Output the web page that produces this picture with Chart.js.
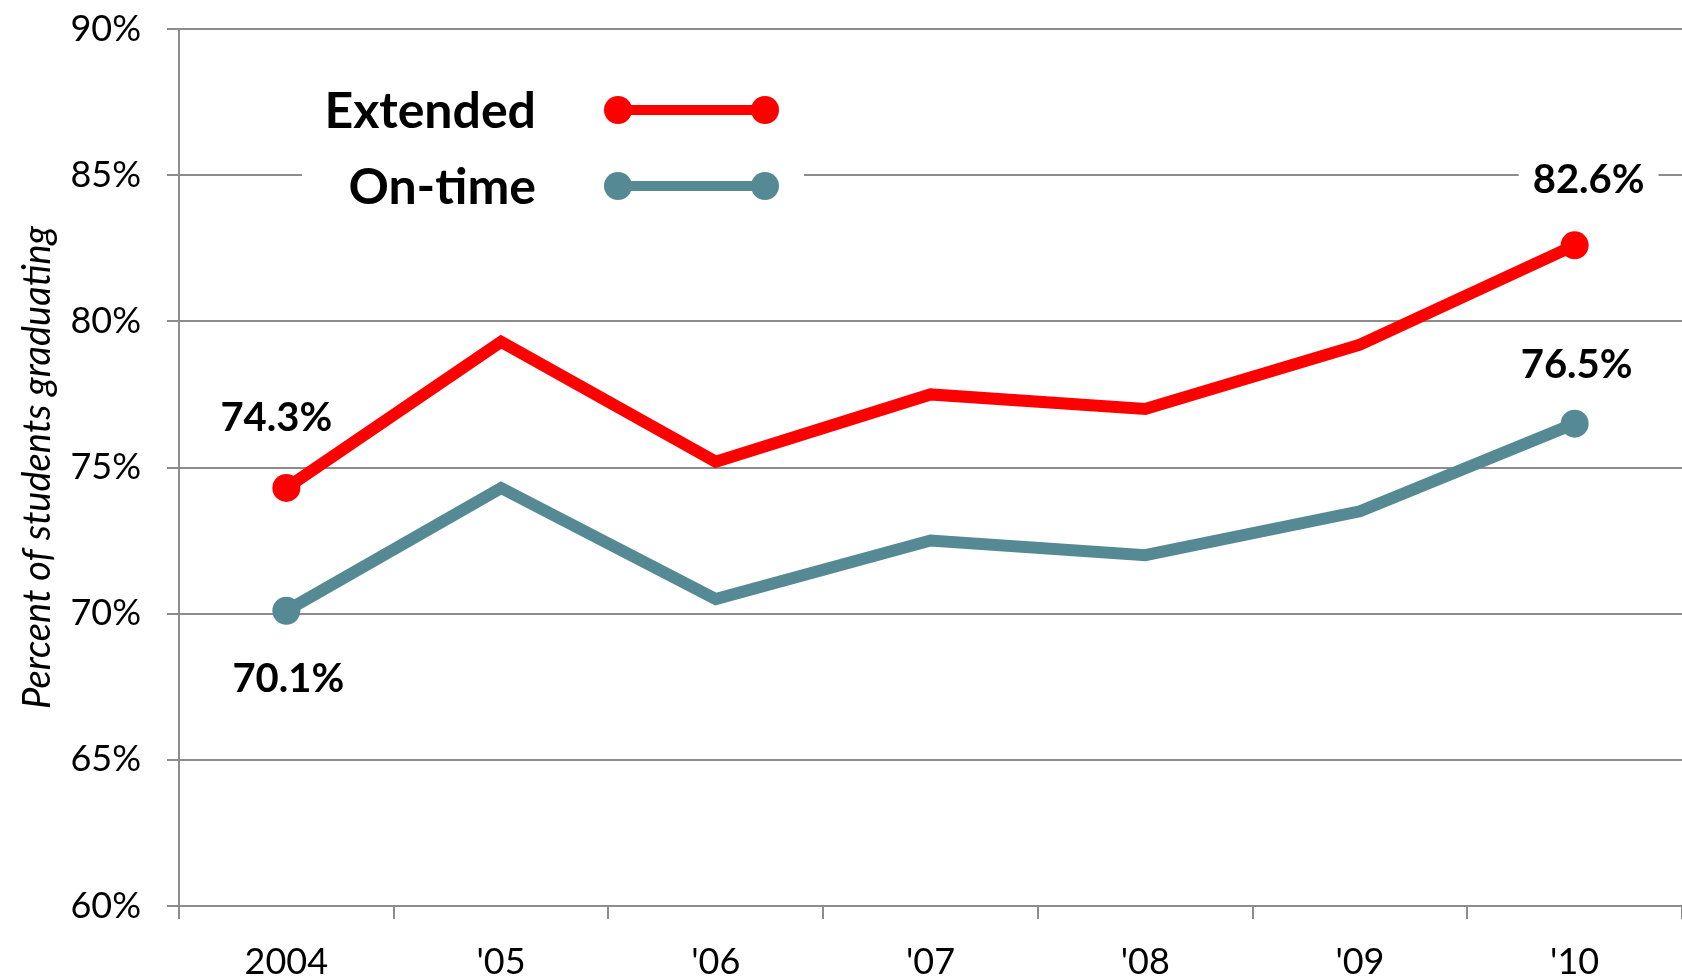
<!DOCTYPE html>
<html lang="en">
<head>
<meta charset="UTF-8">
<title>Percent of students graduating</title>
<script src="https://cdn.jsdelivr.net/npm/chart.js"></script>
<style>
  html, body { margin: 0; padding: 0; background: #fff; overflow: hidden; }
  canvas { display: block; }
</style>
</head>
<body>
<canvas id="myChart" width="1682" height="979"></canvas>
<script>
var years = ["2004", "'05", "'06", "'07", "'08", "'09", "'10"];
var extended = [74.3, 79.3, 75.2, 77.5, 77.0, 79.2, 82.6];
var onTime = [70.1, 74.3, 70.5, 72.5, 72.0, 73.5, 76.5];
var yMin = 60, yMax = 90, yStep = 5;
var seriesNames = ["Extended", "On-time"];
var seriesColors = ["#ff0000", "#558a95"];

var FONT = 'Lato, "Noto Sans", sans-serif';
var GRID = '#8c8c8c';

// only the first and last points get a marker
function endMarkers(n) {
    var r = [];
    for (var i = 0; i < n; i++) r.push(i === 0 || i === n - 1 ? 14 : 0);
    return r;
}

// value labels next to the end points, offsets in px from the point
var endLabelOffsets = [
    { ds: 0, i: 0, dx: -10, dy: -72 },
    { ds: 1, i: 0, dx: 2, dy: 66 },
    { ds: 0, i: 6, dx: 14, dy: -67 },
    { ds: 1, i: 6, dx: 2, dy: -61 }
];

var endLabelsPlugin = {
    id: 'endLabels',
    afterDatasetsDraw: function (chart) {
        var ctx = chart.ctx;
        ctx.save();
        ctx.font = 'bold 40px ' + FONT;
        ctx.textAlign = 'center';
        ctx.textBaseline = 'middle';
        endLabelOffsets.forEach(function (o) {
            var pt = chart.getDatasetMeta(o.ds).data[o.i];
            var v = chart.data.datasets[o.ds].data[o.i];
            var txt = v.toFixed(1) + '%';
            var x = pt.x + o.dx, y = pt.y + o.dy;
            var w = ctx.measureText(txt).width;
            ctx.fillStyle = '#fff';
            ctx.fillRect(x - w / 2 - 14, y - 20, w + 28, 40);
            ctx.fillStyle = '#000';
            ctx.fillText(txt, x, y + 2);
        });
        ctx.restore();
    }
};

var legendPlugin = {
    id: 'boxLegend',
    afterDraw: function (chart) {
        var ctx = chart.ctx;
        var rows = [110, 186];
        ctx.save();
        ctx.fillStyle = '#fff';
        ctx.fillRect(302, 70, 502, 150);
        ctx.font = 'bold 50px ' + FONT;
        ctx.textAlign = 'right';
        ctx.textBaseline = 'middle';
        for (var k = 0; k < seriesNames.length; k++) {
            var y = rows[k];
            ctx.fillStyle = '#000';
            ctx.fillText(seriesNames[k], 536, y + 2);
            ctx.strokeStyle = seriesColors[k];
            ctx.lineWidth = 10;
            ctx.beginPath();
            ctx.moveTo(618, y);
            ctx.lineTo(765, y);
            ctx.stroke();
            ctx.fillStyle = seriesColors[k];
            [618, 765].forEach(function (x) {
                ctx.beginPath();
                ctx.arc(x, y, 14, 0, Math.PI * 2);
                ctx.fill();
            });
        }
        ctx.restore();
    }
};

var data = {
    labels: years,
    datasets: [
        {
            label: seriesNames[0],
            data: extended,
            borderColor: seriesColors[0],
            backgroundColor: seriesColors[0],
            pointBackgroundColor: seriesColors[0],
            borderWidth: 12,
            tension: 0,
            pointRadius: endMarkers(extended.length),
            pointHoverRadius: endMarkers(extended.length),
            pointBorderWidth: 0,
            clip: false
        },
        {
            label: seriesNames[1],
            data: onTime,
            borderColor: seriesColors[1],
            backgroundColor: seriesColors[1],
            pointBackgroundColor: seriesColors[1],
            borderWidth: 12,
            tension: 0,
            pointRadius: endMarkers(onTime.length),
            pointHoverRadius: endMarkers(onTime.length),
            pointBorderWidth: 0,
            clip: false
        }
    ]
};

var config = {
    type: 'line',
    data: data,
    plugins: [endLabelsPlugin, legendPlugin],
    options: {
        responsive: false,
        animation: false,
        events: [],
        layout: {
            autoPadding: false,
            padding: { top: 29, right: 0, bottom: 0, left: 0 }
        },
        plugins: {
            legend: { display: false },
            tooltip: { enabled: false }
        },
        scales: {
            x: {
                offset: true,
                grid: {
                    offset: true,
                    drawOnChartArea: false,
                    drawTicks: true,
                    tickLength: 13,
                    color: GRID,
                    lineWidth: 2
                },
                border: { display: true, color: GRID, width: 2 },
                ticks: {
                    color: '#000',
                    padding: 22,
                    maxRotation: 0,
                    font: { family: FONT, size: 36 }
                },
                afterFit: function (scale) {
                    scale.height = 73;
                    scale.paddingLeft = 0;
                    scale.paddingRight = 0;
                }
            },
            y: {
                min: yMin,
                max: yMax,
                grid: {
                    color: GRID,
                    lineWidth: 2,
                    tickLength: 12
                },
                border: { display: true, color: GRID, width: 2 },
                ticks: {
                    stepSize: yStep,
                    color: '#000',
                    padding: 26,
                    font: { family: FONT, size: 36 },
                    callback: function (v) { return v + '%'; }
                },
                title: {
                    display: true,
                    text: 'Percent of students graduating',
                    color: '#000',
                    padding: { top: 15, bottom: 0 },
                    font: { family: FONT, size: 38, style: 'italic' }
                },
                afterFit: function (scale) {
                    scale.width = 179;
                    scale.paddingTop = 0;
                    scale.paddingBottom = 0;
                }
            }
        }
    }
};

var myChart = new Chart(document.getElementById('myChart'), config);
</script>
</body>
</html>
